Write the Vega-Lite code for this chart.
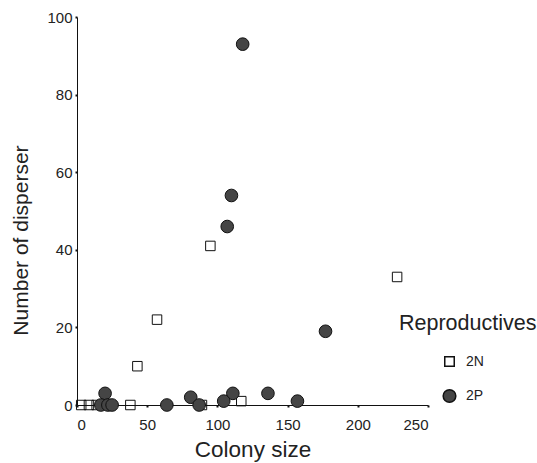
{
  "$schema": "https://vega.github.io/schema/vega-lite/v6.json",
  "width": 351,
  "height": 388,
  "autosize": {"type": "none"},
  "padding": {"left": 77, "top": 17, "right": 109, "bottom": 58},
  "config": {
    "view": {"stroke": null},
    "font": "Liberation Sans",
    "axis": {
      "grid": false,
      "domainColor": "#111",
      "domainWidth": 1,
      "tickColor": "#111",
      "tickSize": 2,
      "tickWidth": 2,
      "labelFont": "Liberation Sans",
      "labelFontSize": 15,
      "labelColor": "#222",
      "titleFont": "Liberation Sans",
      "titleFontWeight": "normal",
      "titleColor": "#222"
    }
  },
  "data": {
    "values": [
      {"colony": 3, "disperser": 0, "rep": "2N"},
      {"colony": 8.5, "disperser": 0, "rep": "2N"},
      {"colony": 14, "disperser": 0, "rep": "2N"},
      {"colony": 38, "disperser": 0, "rep": "2N"},
      {"colony": 43, "disperser": 10, "rep": "2N"},
      {"colony": 57, "disperser": 22, "rep": "2N"},
      {"colony": 95, "disperser": 41, "rep": "2N"},
      {"colony": 89, "disperser": 0, "rep": "2N"},
      {"colony": 117, "disperser": 1, "rep": "2N"},
      {"colony": 228, "disperser": 33, "rep": "2N"},
      {"colony": 118, "disperser": 93, "rep": "2P"},
      {"colony": 110, "disperser": 54, "rep": "2P"},
      {"colony": 107, "disperser": 46, "rep": "2P"},
      {"colony": 177, "disperser": 19, "rep": "2P"},
      {"colony": 136, "disperser": 3, "rep": "2P"},
      {"colony": 157, "disperser": 1, "rep": "2P"},
      {"colony": 111, "disperser": 3, "rep": "2P"},
      {"colony": 104.5, "disperser": 1, "rep": "2P"},
      {"colony": 81, "disperser": 2, "rep": "2P"},
      {"colony": 87, "disperser": 0, "rep": "2P"},
      {"colony": 64, "disperser": 0, "rep": "2P"},
      {"colony": 20, "disperser": 3, "rep": "2P"},
      {"colony": 17, "disperser": 0, "rep": "2P"},
      {"colony": 22, "disperser": 0, "rep": "2P"},
      {"colony": 25, "disperser": 0, "rep": "2P"}
    ]
  },
  "mark": {"type": "point", "filled": false, "stroke": "#111", "strokeWidth": 1, "opacity": 1, "clip": false},
  "encoding": {
    "x": {
      "field": "colony", "type": "quantitative",
      "scale": {"domain": [0, 250], "nice": false},
      "axis": {"values": [0, 50, 100, 150, 200, 250], "title": "Colony size", "titleFontSize": 22.5, "labelPadding": 10, "titlePadding": 6}
    },
    "y": {
      "field": "disperser", "type": "quantitative",
      "scale": {"domain": [0, 100], "nice": false},
      "axis": {"values": [0, 20, 40, 60, 80, 100], "title": "Number of disperser", "titleFontSize": 21, "labelPadding": 3, "titlePadding": 15, "titleY": 223}
    },
    "shape": {
      "field": "rep", "type": "nominal",
      "scale": {"domain": ["2N", "2P"], "range": ["square", "circle"]},
      "legend": {
        "title": "Reproductives",
        "orient": "none",
        "legendX": 322,
        "legendY": 296,
        "padding": 0,
        "titleFontSize": 21.5,
        "titleFontWeight": "normal",
        "titleColor": "#222",
        "titleFont": "Liberation Sans",
        "titlePadding": 20,
        "labelFontSize": 14,
        "labelColor": "#222",
        "labelFont": "Liberation Sans",
        "symbolOffset": 43,
        "labelOffset": 9,
        "rowPadding": 17
      }
    },
    "fill": {
      "field": "rep", "type": "nominal",
      "scale": {"domain": ["2N", "2P"], "range": ["transparent", "#454545"]}
    },
    "size": {
      "field": "rep", "type": "nominal",
      "scale": {"domain": ["2N", "2P"], "range": [90, 160]}
    }
  }
}
